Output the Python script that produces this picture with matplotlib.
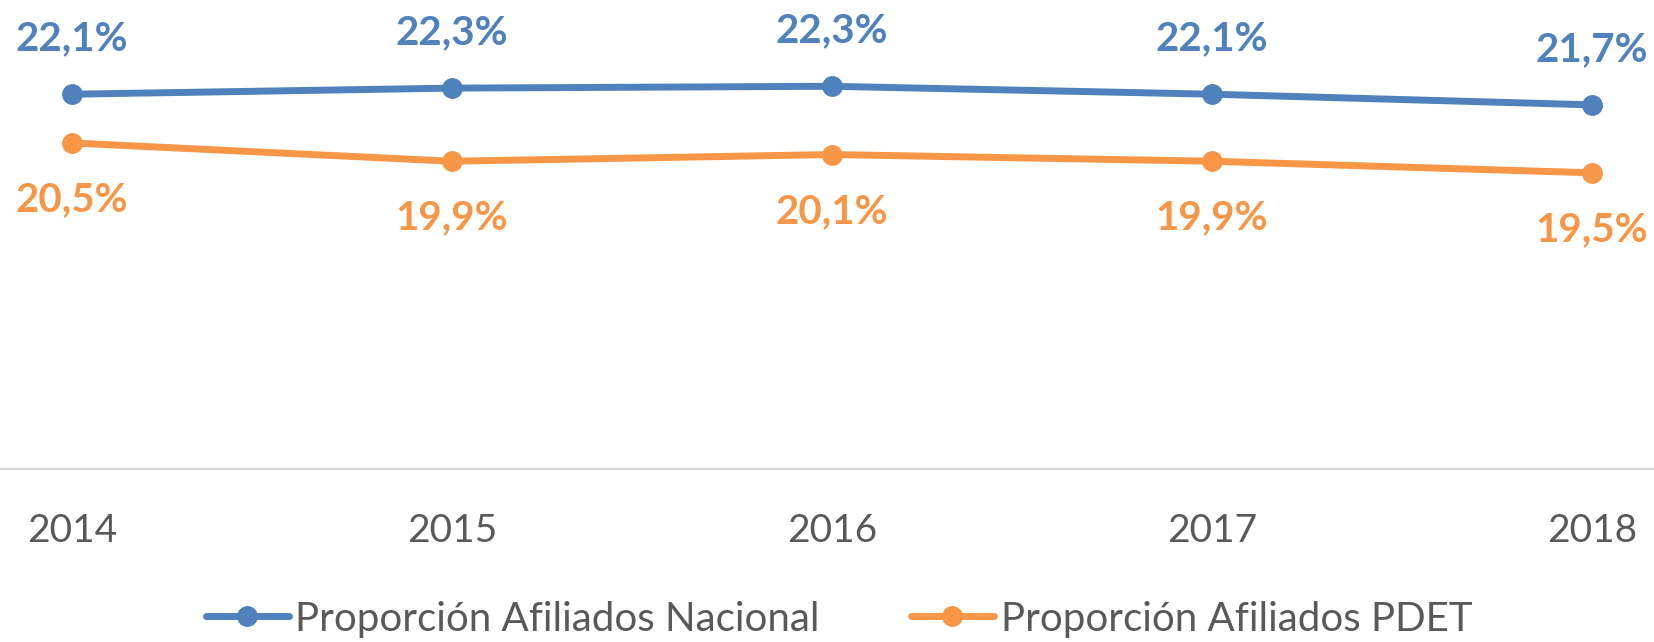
import matplotlib
matplotlib.use("Agg")
import matplotlib.pyplot as plt

years = ["2014", "2015", "2016", "2017", "2018"]
nacional = [22.1, 22.3, 22.36, 22.1, 21.75]
pdet = [20.5, 19.9, 20.12, 19.9, 19.52]
label_nacional = ["22,1%", "22,3%", "22,3%", "22,1%", "21,7%"]
label_pdet = ["20,5%", "19,9%", "20,1%", "19,9%", "19,5%"]
series_names = ["Proporción Afiliados Nacional", "Proporción Afiliados PDET"]

BLUE = "#4F81BD"
ORANGE = "#F79646"
GRAY = "#595959"

plt.rcParams['font.family'] = ['Lato', 'DejaVu Sans']

W, H = 1654, 642
fig = plt.figure(figsize=(W / 100, H / 100), dpi=100)
ax = fig.add_axes([0, (H - 469) / H, 1, 469 / H])

x = list(range(len(years)))
ax.plot(x, nacional, color=BLUE, lw=5, marker='o', ms=14, solid_capstyle='round', zorder=3,
        label=series_names[0])
ax.plot(x, pdet, color=ORANGE, lw=5, marker='o', ms=14, solid_capstyle='round', zorder=3,
        label=series_names[1])

for xi, v, t in zip(x, nacional, label_nacional):
    ax.annotate(t, (xi, v), xytext=(0, 40), textcoords='offset points', ha='center', va='center',
                fontsize=29, fontweight='bold', color=BLUE)
for xi, v, t in zip(x, pdet, label_pdet):
    ax.annotate(t, (xi, v), xytext=(0, -41), textcoords='offset points', ha='center', va='center',
                fontsize=29, fontweight='bold', color=ORANGE)

ax.set_xlim(-72 / 380, 4 + 62 / 380)
ax.set_ylim(9.8, 22.1 + 94.3 / 30.5)
ax.set_xticks(x)
ax.set_xticklabels(years)
ax.set_yticks([])
ax.tick_params(axis='x', length=0, pad=32, labelsize=28, labelcolor=GRAY)
for s in ['top', 'left', 'right']:
    ax.spines[s].set_visible(False)
ax.spines['bottom'].set_color('#D9D9D9')
ax.spines['bottom'].set_linewidth(1.6)
ax.set_facecolor('none')

leg = fig.legend(loc='center', bbox_to_anchor=(839 / W, (H - 619) / H), ncol=2, frameon=False,
                 fontsize=29, labelcolor=GRAY, handlelength=2.06, handletextpad=0.17,
                 columnspacing=2.26, borderaxespad=0, borderpad=0)

fig.savefig("out.png", dpi=100)
